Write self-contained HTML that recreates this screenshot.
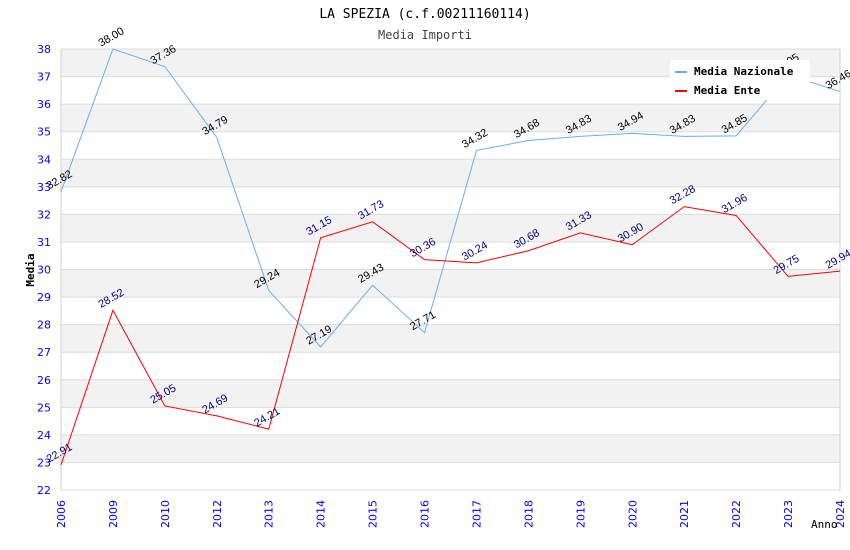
<!DOCTYPE html>
<html><head><meta charset="utf-8"><style>
body{margin:0;background:#fff}
svg{display:block;font-family:"DejaVu Sans","Liberation Sans",sans-serif}
</style></head><body>
<svg id="chart" width="850" height="550">
<text x="425" y="18" text-anchor="middle" font-size="13" font-family="DejaVu Sans Mono,monospace">LA SPEZIA (c.f.00211160114)</text>
<text x="425" y="39" text-anchor="middle" font-size="12" fill="#444" font-family="DejaVu Sans Mono,monospace">Media Importi</text>
<g id="bands"></g><g id="grid"></g><g id="axes"></g><g id="series"></g><g id="labels"></g>
<text x="0" y="0" transform="translate(34,270) rotate(-90)" text-anchor="middle" font-size="11" font-weight="bold" font-family="DejaVu Sans Mono,monospace">Media</text>
<text x="811" y="528" font-size="11" font-family="DejaVu Sans Mono,monospace">Anno</text>
<g>
<rect x="670" y="60" width="140" height="40" fill="#fff"/>
<line x1="675" y1="72" x2="687" y2="72" stroke="#6aaeee" stroke-width="2"/>
<text x="694" y="75" font-size="11" font-weight="bold" font-family="DejaVu Sans Mono,monospace">Media Nazionale</text>
<line x1="675" y1="91" x2="687" y2="91" stroke="#ff0000" stroke-width="2"/>
<text x="694" y="94" font-size="11" font-weight="bold" font-family="DejaVu Sans Mono,monospace">Media Ente</text>
</g>
</svg>
<script>
const years=["2006","2009","2010","2012","2013","2014","2015","2016","2017","2018","2019","2020","2021","2022","2023","2024"];
const nazionale=[32.82,38.00,37.36,34.79,29.24,27.19,29.43,27.71,34.32,34.68,34.83,34.94,34.83,34.85,37.05,36.46];
const ente=[22.91,28.52,25.05,24.69,24.21,31.15,31.73,30.36,30.24,30.68,31.33,30.90,32.28,31.96,29.75,29.94];
const yTicks=[22,23,24,25,26,27,28,29,30,31,32,33,34,35,36,37,38];
const NS="http://www.w3.org/2000/svg";
const L=61,R=840,T=49,B=490,yMin=22,yMax=38;
const xs=i=>L+i*(R-L)/(years.length-1);
const ys=v=>B-(v-yMin)*(B-T)/(yMax-yMin);
function mk(p,tag,a){const e=document.createElementNS(NS,tag);for(const k in a)e.setAttribute(k,a[k]);document.getElementById(p).appendChild(e);return e;}
for(let v=yMin;v<yMax;v++){
  if((yMax-v)%2===1){const r=mk('bands','rect',{x:L,y:ys(v+1),width:R-L,height:ys(v)-ys(v+1),fill:'#f2f2f2'});
  
  }
}
yTicks.forEach(v=>{
  const l=mk('grid','line',{x1:L,x2:R,y1:ys(v),y2:ys(v),stroke:'#dcdcdc'});
  
  
  const t=mk('axes','text',{x:L-10,y:ys(v)+4,'text-anchor':'end','font-size':11,fill:'#0000ff'});
  t.textContent=v;
  
  
});
mk('grid','line',{x1:L,x2:L,y1:T,y2:B,stroke:'#d0d0d0'});
mk('grid','line',{x1:R,x2:R,y1:T,y2:B,stroke:'#d0d0d0'});
years.forEach((y,i)=>{
  const t=mk('axes','text',{transform:`translate(${xs(i)+4},${B+10}) rotate(-90)`,'text-anchor':'end','font-size':11,fill:'#0000ff'});
  t.textContent=y;
  
  
});
function series(vals,color,lblColor,name){
  const p=mk('series','polyline',{points:vals.map((v,i)=>xs(i)+','+ys(v)).join(' '),fill:'none',stroke:color,'stroke-width':1});
  
  
  vals.forEach((v,i)=>{
    const t=mk('labels','text',{transform:`translate(${xs(i)},${ys(v)-9}) rotate(-30)`,'text-anchor':'middle','font-size':11,fill:lblColor,'font-family':'Liberation Sans,sans-serif'});
    t.textContent=v.toFixed(2);
    
    
  });
}
series(nazionale,'#6aaeee','#000','nazionale');
series(ente,'#ff0000','#000080','ente');
</script>
</body></html>
